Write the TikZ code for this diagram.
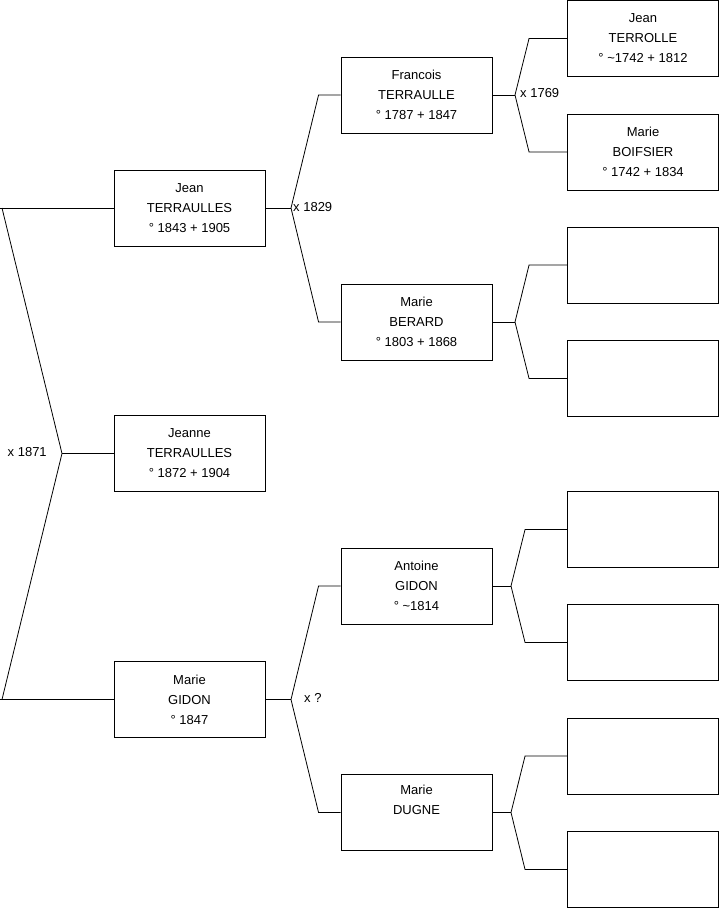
\documentclass[tikz,border=0pt]{standalone}
\usepackage{fontspec}
\setmainfont{Liberation Sans}
\begin{document}
\begin{tikzpicture}[x=1pt,y=-1pt,
  person/.style={draw=black,line width=0.9pt,fill=white,minimum width=151pt,minimum height=76pt,inner sep=0pt,align=center,font=\fontsize{13}{20}\selectfont},
  link/.style={draw=black,line width=0.8pt},
  lbl/.style={anchor=west,inner sep=0pt,font=\fontsize{13}{16}\selectfont}]
\useasboundingbox (0,0) rectangle (719,908);
% generation 1
\node[person] (jean)   at (189.5,208)   {Jean\\TERRAULLES\\° 1843 + 1905};
\node[person] (jeanne) at (189.5,453.5) {Jeanne\\TERRAULLES\\° 1872 + 1904};
\node[person] (mgidon) at (189.5,699.5) {Marie\\GIDON\\° 1847};
% generation 2
\node[person] (francois) at (416.5,95)    {Francois\\TERRAULLE\\° 1787 + 1847};
\node[person] (berard)   at (416.5,322)   {Marie\\BERARD\\° 1803 + 1868};
\node[person] (antoine)  at (416.5,586)   {Antoine\\GIDON\\° \textasciitilde 1814};
\node[person] (dugne)    at (416.5,812.5) {Marie\\DUGNE\\\strut};
% generation 3
\node[person] (g1) at (643,38.4)  {Jean\\TERROLLE\\° \textasciitilde 1742 + 1812};
\node[person] (g2) at (643,152)   {Marie\\BOIFSIER\\° 1742 + 1834};
\node[person] (g3) at (643,265)   {};
\node[person] (g4) at (643,378.5) {};
\node[person] (g5) at (643,529.5) {};
\node[person] (g6) at (643,642.5) {};
\node[person] (g7) at (643,756)   {};
\node[person] (g8) at (643,869.5) {};
% fork points
\coordinate (m0) at (62,453.5);
\coordinate (ja) at (2,208);
\coordinate (jb) at (2,699.5);
\coordinate (f1) at (291,208);
\coordinate (f2) at (291,699.5);
\coordinate (fA) at (515,95);
\coordinate (fB) at (515,322);
\coordinate (fC) at (511,586);
\coordinate (fD) at (511,812.5);
% left connectors
\draw[link] (jean.west) -- ++(-114,0);
\draw[link] (mgidon.west) -- ++(-114,0);
\draw[link] (ja) -- (m0) -- (jb);
\draw[link] (jeanne.west) -- (m0);
% gen1 -> gen2
\draw[link] (jean.east) -- (f1);
\draw[link] (f1) -- ([xshift=-22pt]francois.west) -- (francois.west);
\draw[link] (f1) -- ([xshift=-22pt]berard.west) -- (berard.west);
\draw[link] (mgidon.east) -- (f2);
\draw[link] (f2) -- ([xshift=-22pt]antoine.west) -- (antoine.west);
\draw[link] (f2) -- ([xshift=-22pt]dugne.west) -- (dugne.west);
% gen2 -> gen3
\draw[link] (francois.east) -- (fA);
\draw[link] (fA) -- ([xshift=-38pt]g1.west) -- (g1.west);
\draw[link] (fA) -- ([xshift=-38pt]g2.west) -- (g2.west);
\draw[link] (berard.east) -- (fB);
\draw[link] (fB) -- ([xshift=-38pt]g3.west) -- (g3.west);
\draw[link] (fB) -- ([xshift=-38pt]g4.west) -- (g4.west);
\draw[link] (antoine.east) -- (fC);
\draw[link] (fC) -- ([xshift=-42pt]g5.west) -- (g5.west);
\draw[link] (fC) -- ([xshift=-42pt]g6.west) -- (g6.west);
\draw[link] (dugne.east) -- (fD);
\draw[link] (fD) -- ([xshift=-42pt]g7.west) -- (g7.west);
\draw[link] (fD) -- ([xshift=-42pt]g8.west) -- (g8.west);
% marriage labels
\node[lbl] (l1871) at (7.5,452.5) {x 1871};
\node[lbl] (l1829) at (293,207)   {x 1829};
\node[lbl] (l1769) at (520,93)    {x 1769};
\node[lbl] (lq)    at (304,698)   {x ?};
\end{tikzpicture}
\end{document}
